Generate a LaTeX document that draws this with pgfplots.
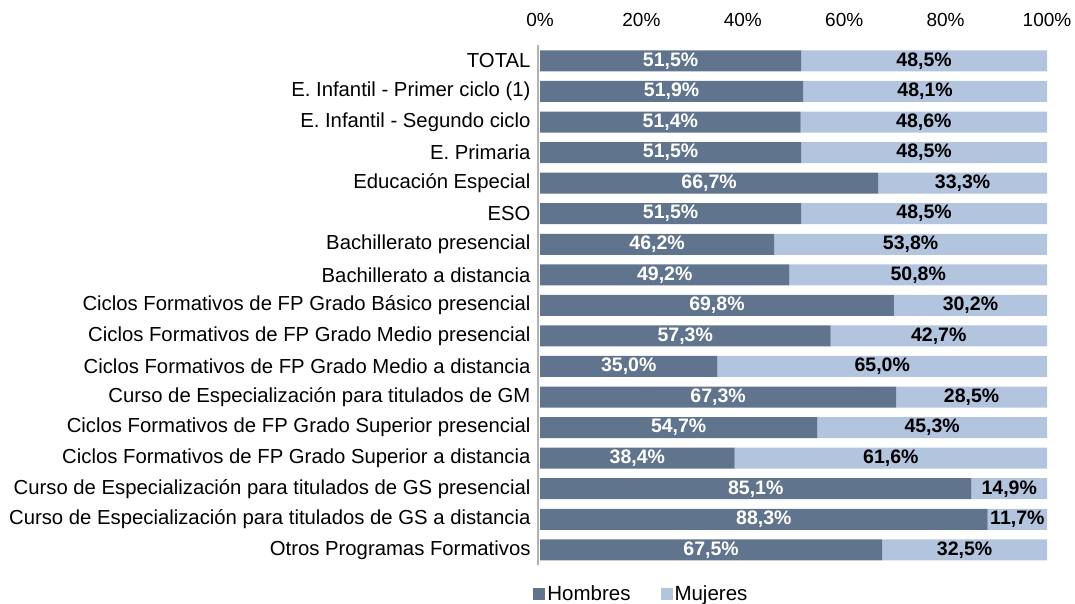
\documentclass[border=0pt]{standalone}
\usepackage{pgfplots}
\pgfplotsset{compat=1.18}
\usepackage{pgfplotstable}
\usepackage{fontspec}
\setmainfont{Liberation Sans}
\definecolor{hombres}{RGB}{96,116,142}
\definecolor{mujeres}{RGB}{179,196,223}
% y: row index; h, m: plotted shares (100% stacked); hl, ml: printed values
\pgfplotstableread{
y   h      m      hl    ml
0   51.5   48.5   51.5  48.5
1   51.9   48.1   51.9  48.1
2   51.4   48.6   51.4  48.6
3   51.5   48.5   51.5  48.5
4   66.7   33.3   66.7  33.3
5   51.5   48.5   51.5  48.5
6   46.2   53.8   46.2  53.8
7   49.2   50.8   49.2  50.8
8   69.8   30.2   69.8  30.2
9   57.3   42.7   57.3  42.7
10  35.0   65.0   35.0  65.0
11  70.25  29.75  67.3  28.5
12  54.7   45.3   54.7  45.3
13  38.4   61.6   38.4  61.6
14  85.1   14.9   85.1  14.9
15  88.3   11.7   88.3  11.7
16  67.5   32.5   67.5  32.5
}\datatable
\begin{document}
\begin{tikzpicture}
\useasboundingbox (0,0) rectangle (1075pt,-604pt);
\begin{axis}[
  at={(540pt,-45pt)}, anchor=north west,
  scale only axis, width=507pt, height=519.5pt,
  xbar stacked, bar width=21pt,
  y dir=reverse,
  xmin=0, xmax=100, ymin=-0.52, ymax=16.48,
  axis line style={draw=none},
  xtick={0,20,40,60,80,100},
  xticklabels={0\%,20\%,40\%,60\%,80\%,100\%},
  xticklabel pos=upper,
  xticklabel style={font=\fontsize{19}{22}\selectfont, yshift=15pt},
  ytick={0,...,16},
  yticklabels={TOTAL,E. Infantil - Primer ciclo (1),E. Infantil - Segundo ciclo,E. Primaria,Educación Especial,ESO,Bachillerato presencial,Bachillerato a distancia,Ciclos Formativos de FP Grado Básico presencial,Ciclos Formativos de FP Grado Medio presencial,Ciclos Formativos de FP Grado Medio a distancia,Curso de Especialización para titulados de GM,Ciclos Formativos de FP Grado Superior presencial,Ciclos Formativos de FP Grado Superior a distancia,Curso de Especialización para titulados de GS presencial,Curso de Especialización para titulados de GS a distancia,Otros Programas Formativos},
  yticklabel style={font=\fontsize{20.3}{22}\selectfont, xshift=-6pt},
  major tick length=0pt,
  /pgf/number format/assume math mode=true,
  legend style={at={(0.2,-0.035)}, anchor=north, draw=none, fill=none,
    legend columns=2, font=\fontsize{20.5}{22}\selectfont, inner sep=1pt,
    /tikz/every even column/.append style={column sep=28pt}},
  legend image code/.code={\fill[#1] (0pt,-6pt) rectangle (12pt,6pt);},
  clip=false,
]
\addplot[fill=hombres, draw=none] table[x=h, y=y] {\datatable};
\addlegendentry{Hombres}
\addplot[fill=mujeres, draw=none] table[x=m, y=y] {\datatable};
\addlegendentry{Mujeres}
\draw[gray!60, line width=1.2pt] (axis cs:-0.4,-0.52) -- (axis cs:-0.4,16.48);
\end{axis}
\begin{axis}[
  at={(540pt,-45pt)}, anchor=north west,
  scale only axis, width=507pt, height=519.5pt,
  y dir=reverse,
  xmin=0, xmax=100, ymin=-0.52, ymax=16.48,
  hide axis, clip=false,
  /pgf/number format/assume math mode=true,
]
\addplot[only marks, mark=none, point meta=explicit,
  nodes near coords={\pgfmathprintnumber[fixed,fixed zerofill,precision=1,use comma]{\pgfplotspointmeta}\%},
  nodes near coords align=center,
  every node near coord/.append style={font=\bfseries\fontsize{19.5}{20}\selectfont, text=white, anchor=center}]
  table[x expr=\thisrow{h}/2, y=y, meta=hl] {\datatable};
\addplot[only marks, mark=none, point meta=explicit,
  nodes near coords={\pgfmathprintnumber[fixed,fixed zerofill,precision=1,use comma]{\pgfplotspointmeta}\%},
  nodes near coords align=center,
  every node near coord/.append style={font=\bfseries\fontsize{19.5}{20}\selectfont, text=black, anchor=center}]
  table[x expr=\thisrow{h}+\thisrow{m}/2, y=y, meta=ml] {\datatable};
\end{axis}
\end{tikzpicture}
\end{document}
